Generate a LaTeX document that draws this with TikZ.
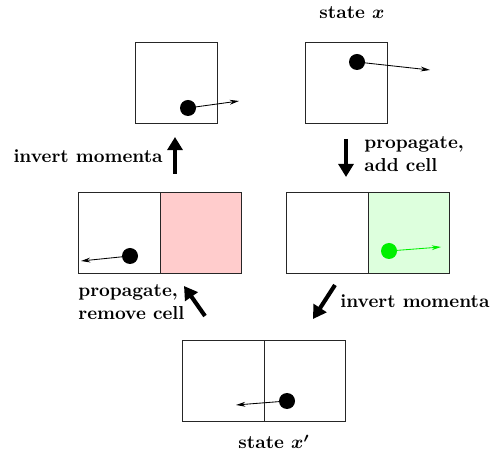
\documentclass[tikz,border=0pt]{standalone}
\usetikzlibrary{arrows.meta}
\definecolor{cellred}{RGB}{255,204,204}
\definecolor{cellgreen}{RGB}{221,255,221}
\definecolor{dotgreen}{RGB}{0,240,0}
\begin{document}
\begin{tikzpicture}[x=0.534pt,y=-0.534pt,
  cell/.style={draw=black!85,line width=0.5pt,minimum width=81.5*0.534pt,minimum height=81*0.534pt,inner sep=0pt,anchor=north west},
  ball/.style={circle,fill=black,minimum size=16*0.534pt,inner sep=0pt},
  mom/.style={line width=0.45pt,-{Stealth[length=5pt,width=2.6pt]},shorten <=0pt},
  bigarrow/.style={line width=2.2pt,-{Triangle[length=7pt,width=8pt]}},
  lbl/.style={font=\bfseries\boldmath,inner sep=0pt}]
\useasboundingbox (0,0) rectangle (491,462);
% top row
\node[cell] (tl) at (135,42) {};
\node[cell] (tr) at (305,42) {};
\node[ball] (btl) at (188,108) {};
\coordinate (etl) at (239,101);
\draw[mom] (btl.center) -- (etl);
\node[ball] (btr) at (357,62) {};
\coordinate (etr) at (430,70);
\draw[mom] (btr.center) -- (etr);
\node[lbl] (sx) at (352,13) {state $x$};
% middle left
\node[cell] (ml1) at (78,192) {};
\node[cell,fill=cellred] (ml2) at (159.5,192) {};
\node[ball] (bml) at (130,256) {};
\coordinate (eml) at (81,261);
\draw[mom] (bml.center) -- (eml);
% middle right
\node[cell] (mr1) at (286,192) {};
\node[cell,fill=cellgreen] (mr2) at (367.5,192) {};
\node[ball,fill=dotgreen] (bmr) at (389,251) {};
\coordinate (emr) at (441,247);
\draw[mom,draw=dotgreen] (bmr.center) -- (emr);
% bottom
\node[cell] (b1) at (182,340) {};
\node[cell] (b2) at (263.5,340) {};
\node[ball] (bb) at (287,401) {};
\coordinate (eb) at (236,405);
\draw[mom] (bb.center) -- (eb);
\node[lbl] (sxp) at (274,442) {state $x'$};
% transition arrows
\coordinate (a1s) at (175,174);
\coordinate (a1e) at (175,137);
\draw[bigarrow] (a1s) -- (a1e);
\node[lbl,anchor=east] (t1) at (163,156) {invert momenta};
\coordinate (a2s) at (346,139);
\coordinate (a2e) at (346,177);
\draw[bigarrow] (a2s) -- (a2e);
\node[lbl,anchor=west,align=left] (t2) at (364,154) {propagate,\\add cell};
\coordinate (a3s) at (335,285);
\coordinate (a3e) at (313,319);
\draw[bigarrow] (a3s) -- (a3e);
\node[lbl,anchor=west] (t3) at (340,301) {invert momenta};
\coordinate (a4s) at (205,316);
\coordinate (a4e) at (184,286);
\draw[bigarrow] (a4s) -- (a4e);
\node[lbl,anchor=west,align=left] (t4) at (78,302) {propagate,\\remove cell};
\end{tikzpicture}
\end{document}
